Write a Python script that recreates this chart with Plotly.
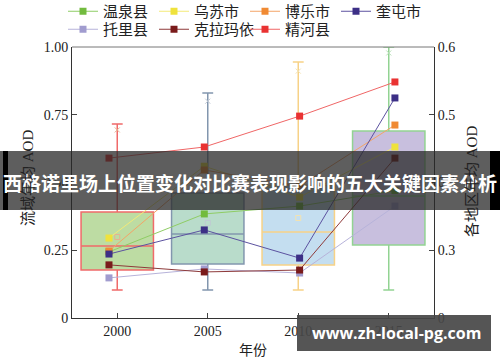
import plotly.graph_objects as go

# ---- data ----
years = [2000, 2005, 2010, 2015]
box_q1 = [0.177, 0.199, 0.196, 0.269]
box_median = [0.266, 0.310, 0.317, 0.45]
box_q3 = [0.391, 0.461, 0.49, 0.690]
box_lower = [0.103, 0.103, 0.103, 0.103]
box_upper = [0.716, 0.830, 0.945, 1.0]
box_mean = [0.299, 0.351, 0.369, 0.47]
box_max_mark = [0.694, 0.80, 0.911, 0.978]

series_names = ['温泉县', '乌苏市', '博乐市', '奎屯市', '托里县', '克拉玛依', '精河县']
wenquan = [0.244, 0.384, 0.413, 0.47]
wusu = [0.295, 0.56, 0.446, 0.631]
bole = [0.247, 0.546, 0.487, 0.712]
kuitun = [0.236, 0.325, 0.221, 0.812]
tuoli = [0.148, 0.181, 0.166, 0.413]
kelamayi = [0.196, 0.170, 0.177, 0.590]
jinghe = [0.59, 0.631, 0.745, 0.871]

left_tick_vals = [0, 0.25, 0.5, 0.75, 1.0]
left_tick_text = ['0', '0.25', '0.50', '0.75', '1.00']
right_tick_text = ['0', '0.3', '0.4', '0.5', '0.6']
x_ticks = [2000, 2005, 2010, 2015]

title_text = '西格诺里场上位置变化对比赛表现影响的五大关键因素分析'
watermark = 'www.zh-local-pg.com'

# ---- styles ----
box_fill = ['#bddca3', '#b9dccb', '#c4def0', '#c8bfde']
box_line = ['#f06a6a', '#8296ae', '#f7d287', '#92d392']
box_mark = ['#e8b090', '#c0c8d4', '#f3e2b0', '#b8e0b8']
series_colors = ['#72bb3e', '#efe23c', '#f08a33', '#3c2f86', '#a19ccf', '#7a1b1b', '#e93232']
line_colors = ['#8fcd65', '#f3ea78', '#f4a467', '#5c52a0', '#b7b3da', '#8e3a3a', '#f06666']
series_values = [wenquan, wusu, bole, kuitun, tuoli, kelamayi, jinghe]
series_legend = ['legend', 'legend', 'legend', 'legend', 'legend2', 'legend2', 'legend2']

SERIF = 'Liberation Serif, Noto Sans CJK SC'
CJK = 'Liberation Serif, Noto Sans CJK SC'

fig = go.Figure()

for i, yr in enumerate(years):
    fig.add_trace(go.Box(
        x=[yr], q1=[box_q1[i]], median=[box_median[i]], q3=[box_q3[i]],
        lowerfence=[box_lower[i]], upperfence=[box_upper[i]],
        width=4, whiskerwidth=0.15,
        fillcolor=box_fill[i], line=dict(color=box_line[i], width=1.5),
        showlegend=False, hoverinfo='skip', boxpoints=False,
    ))

fig.add_trace(go.Scatter(
    x=years, y=box_mean, mode='markers', showlegend=False, hoverinfo='skip',
    marker=dict(symbol='square-open', size=5, color=box_mark, line=dict(width=1)),
))
fig.add_trace(go.Scatter(
    x=years, y=box_max_mark, mode='markers', showlegend=False, hoverinfo='skip',
    marker=dict(symbol='x-thin-open', size=5, color=box_mark, line=dict(width=1, color=box_mark)),
))

for name, vals, mc, lc, lg in zip(series_names, series_values, series_colors, line_colors, series_legend):
    fig.add_trace(go.Scatter(
        x=years, y=vals, name=name, mode='lines+markers',
        xaxis='x2', yaxis='y2', legend=lg,
        line=dict(color=lc, width=1),
        marker=dict(symbol='square', size=7, color=mc),
    ))


def px(xp):
    return (xp - 72) / 362.0


def py(yp):
    return (318 - yp) / 271.0


shapes = [
    dict(type='line', xref='paper', yref='paper', x0=0, x1=1, y0=1, y1=1,
         line=dict(color='#777777', width=1)),
    dict(type='rect', xref='paper', yref='paper', x0=px(0), x1=px(500), y0=py(210), y1=py(151),
         fillcolor='rgba(40,40,40,0.75)', line=dict(width=0), layer='above'),
    dict(type='rect', xref='paper', yref='paper', x0=px(3), x1=px(8), y0=py(210), y1=py(151),
         fillcolor='#000000', line=dict(width=0), layer='above'),
    dict(type='rect', xref='paper', yref='paper', x0=px(490), x1=px(500), y0=py(210), y1=py(151),
         fillcolor='#000000', line=dict(width=0), layer='above'),
    dict(type='rect', xref='paper', yref='paper', x0=px(297), x1=px(491), y0=py(351), y1=py(315),
         fillcolor='rgba(70,70,70,0.92)', line=dict(width=0), layer='above'),
]


def ann(text, x, y, font, angle=0):
    return dict(text=text, xref='paper', yref='paper', x=px(x), y=py(y), xanchor='center',
                yanchor='middle', textangle=angle, showarrow=False, font=font)


annotations = [
    ann(title_text, 250, 182, dict(family='Noto Sans CJK SC', size=19, color='white', weight='bold')),
    ann(watermark, 396, 333, dict(family='Open Sans', size=16, color='white', weight='bold')),
    ann('流域年均 AOD', 28, 178, dict(family=CJK, size=15, color='#222'), -90),
    ann('各地区年均 AOD', 472, 182, dict(family=CJK, size=15, color='#222'), -90),
    ann('年份', 253, 350, dict(family=CJK, size=14, color='#222')),
]

legend_common = dict(orientation='h', xanchor='left', yanchor='top',
                     entrywidth=46, entrywidthmode='pixels', tracegroupgap=0,
                     font=dict(family=CJK, size=15, color='#222'), bgcolor='rgba(0,0,0,0)')

fig.update_layout(
    width=500, height=362,
    margin=dict(l=72, r=66, t=47, b=44, autoexpand=False),
    plot_bgcolor='white', paper_bgcolor='white',
    font=dict(family=SERIF, size=14, color='#222'),
    xaxis=dict(range=[1997.5, 2017.5], tickvals=x_ticks, ticks='inside', ticklen=5,
               showline=True, linecolor='#333', linewidth=1, showgrid=False, zeroline=False,
               tickfont=dict(family=SERIF, size=14)),
    xaxis2=dict(range=[1998.06, 2017.05], overlaying='x', visible=False),
    yaxis=dict(range=[0, 1], tickvals=left_tick_vals, ticktext=left_tick_text, ticks='inside',
               ticklen=5, showline=True, linecolor='#333', linewidth=1, showgrid=False,
               zeroline=False, tickfont=dict(family=SERIF, size=14)),
    yaxis2=dict(range=[0, 1], overlaying='y', side='right', tickvals=left_tick_vals,
                ticktext=right_tick_text, ticks='inside', ticklen=5, showline=True,
                linecolor='#333', linewidth=1, showgrid=False, zeroline=False,
                tickfont=dict(family=SERIF, size=14)),
    legend=dict(x=px(63), y=py(-5), **legend_common),
    legend2=dict(x=px(63), y=py(13), **legend_common),
    shapes=shapes, annotations=annotations,
)

fig.write_html('out.html')
